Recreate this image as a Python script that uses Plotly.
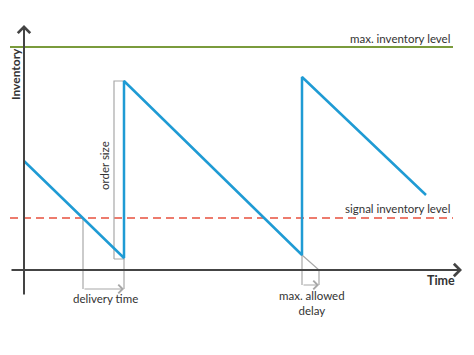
import plotly.graph_objects as go

# Data (time units, inventory units)
time = [0, 10.0, 10.0, 27.8, 27.8, 40.2]
inventory = [10.9, 1.2, 18.9, 1.5, 19.3, 7.5]
max_level = 22.3
signal_level = 5.2
order_rect_t = [9.0, 10.0]
order_rect_inv = [1.1, 18.9]
delivery_start = 5.9
delivery_end = 10.0
delay_start = 27.8
delay_end = 29.5
bracket_level = -1.9
delay_bracket_level = -1.5

x_span = [-1.4, 42.9]

FONT = "Lato"
TXT = "#333333"
GRAY = "#a8a8a8"

fig = go.Figure()

# max inventory level
fig.add_trace(go.Scatter(x=x_span, y=[max_level]*2, mode="lines",
                         line=dict(color="#7a9b3c", width=2), hoverinfo="skip"))
# signal inventory level
fig.add_trace(go.Scatter(x=x_span, y=[signal_level]*2, mode="lines",
                         line=dict(color="#e8503e", width=1.6, dash="8px,5px"), hoverinfo="skip"))

# order size rectangle
fig.add_trace(go.Scatter(
    x=[order_rect_t[0], order_rect_t[1], order_rect_t[1], order_rect_t[0], order_rect_t[0]],
    y=[order_rect_inv[0], order_rect_inv[0], order_rect_inv[1], order_rect_inv[1], order_rect_inv[0]],
    mode="lines", line=dict(color=GRAY, width=1.2), hoverinfo="skip"))

# delivery time bracket
fig.add_trace(go.Scatter(x=[delivery_start, delivery_start], y=[signal_level, bracket_level],
                         mode="lines", line=dict(color=GRAY, width=1.2), hoverinfo="skip"))
fig.add_trace(go.Scatter(x=[delivery_end, delivery_end], y=[order_rect_inv[0], bracket_level],
                         mode="lines", line=dict(color=GRAY, width=1.2), hoverinfo="skip"))

# max allowed delay bracket
fig.add_trace(go.Scatter(x=[delay_start, delay_start], y=[inventory[3], delay_bracket_level],
                         mode="lines", line=dict(color=GRAY, width=1.2), hoverinfo="skip"))
fig.add_trace(go.Scatter(x=[delay_start, delay_end, delay_end], y=[inventory[3], 0, delay_bracket_level],
                         mode="lines", line=dict(color=GRAY, width=1.2), hoverinfo="skip"))

# inventory sawtooth
fig.add_trace(go.Scatter(x=time, y=inventory, mode="lines",
                         line=dict(color="#1f9bd4", width=2.5), hoverinfo="skip"))

ann = []
# axes arrows
ann.append(dict(x=0, y=24.5, ax=0, ay=-2.6, xref="x", yref="y", axref="x", ayref="y",
                showarrow=True, arrowhead=4, arrowsize=1.2, arrowwidth=2, arrowcolor="#444", text=""))
ann.append(dict(x=43.8, y=0, ax=-1.4, ay=0, xref="x", yref="y", axref="x", ayref="y",
                showarrow=True, arrowhead=4, arrowsize=1.2, arrowwidth=2, arrowcolor="#444", text=""))
# bracket arrows
ann.append(dict(x=delivery_end, y=bracket_level, ax=delivery_start, ay=bracket_level,
                xref="x", yref="y", axref="x", ayref="y",
                showarrow=True, arrowhead=4, arrowsize=1.4, arrowwidth=1.2, arrowcolor=GRAY, text=""))
ann.append(dict(x=delay_end, y=delay_bracket_level, ax=delay_start, ay=delay_bracket_level,
                xref="x", yref="y", axref="x", ayref="y",
                showarrow=True, arrowhead=4, arrowsize=1.4, arrowwidth=1.2, arrowcolor=GRAY, text=""))

def label(text, x, y, xanchor="center", bold=False, angle=0, size=11.5):
    ann.append(dict(x=x, y=y, xref="x", yref="y", text=f"<b>{text}</b>" if bold else text,
                    showarrow=False, xanchor=xanchor, yanchor="middle", textangle=angle,
                    font=dict(family=FONT, size=size, color=TXT)))

label("max. inventory level", 42.8, 23.2, xanchor="right")
label("signal inventory level", 42.8, 6.2, xanchor="right")
label("Time", 43.3, -1.0, xanchor="right", bold=True, size=12.5)
label("Inventory", -0.9, 19.6, bold=True, angle=-90, size=12)
label("order size", 8.0, 10.4, angle=-90)
label("delivery time", 8.1, -2.8)
label("max. allowed<br>delay", 28.8, -3.3)

fig.update_layout(
    width=474, height=355, margin=dict(l=0, r=0, t=0, b=0),
    paper_bgcolor="white", plot_bgcolor="white", showlegend=False,
    xaxis=dict(visible=False, range=[-2.4, 45.0], fixedrange=True),
    yaxis=dict(visible=False, range=[-8.5, 27.0], fixedrange=True),
    annotations=ann,
)

fig.write_html("out.html")
